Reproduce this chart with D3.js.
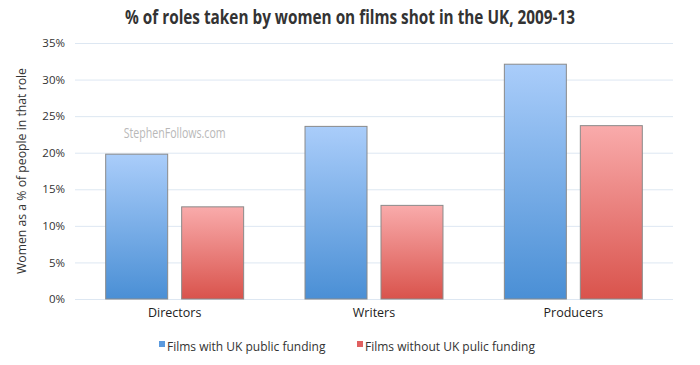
<!DOCTYPE html>
<html><head><meta charset="utf-8">
<script src="https://cdn.jsdelivr.net/npm/d3@7"></script>
<style>body{margin:0;background:#fff}svg{display:block}</style>
</head><body><svg id="c" width="700" height="365"></svg>
<script>
const categories = ["Directors", "Writers", "Producers"];
const seriesNames = ["Films with UK public funding", "Films without UK pulic funding"];
const withFunding = [19.8, 23.6, 32.1];
const withoutFunding = [12.6, 12.8, 23.7];
const yTicks = [0, 5, 10, 15, 20, 25, 30, 35];

const svg = d3.select("#c");
const m = {l: 75, r: 27, t: 43, b: 66};
const W = 700, H = 365;
const x0 = d3.scaleBand().domain(categories).range([m.l, W - m.r]).paddingInner(0).paddingOuter(0);
const x1 = d3.scaleBand().domain([0, 1]).range([0, x0.bandwidth()]).paddingInner(0.184).paddingOuter(0.404);
const y = d3.scaleLinear().domain([0, 35]).range([H - m.b, m.t]);

const defs = svg.append("defs");
const grads = [["gb", "#aacdfa", "#4a8fd5"], ["gr", "#f9abab", "#d9534c"]];
grads.forEach(([id, a, b]) => {
  const g = defs.append("linearGradient").attr("id", id).attr("x1", 0).attr("x2", 0).attr("y1", 0).attr("y2", 1);
  g.append("stop").attr("offset", "0%").attr("stop-color", a);
  g.append("stop").attr("offset", "100%").attr("stop-color", b);
});

const font = "'Open Sans', 'Noto Sans', sans-serif";
const cond = "'Open Sans', 'Noto Sans', sans-serif";

svg.append("text").attr("x", 350).attr("y", 24).attr("text-anchor", "middle")
  .attr("font-family", cond).attr("font-weight", "bold").attr("font-size", 19).attr("fill", "#333")
  .attr("textLength", 450).attr("lengthAdjust", "spacingAndGlyphs")
  .text("% of roles taken by women on films shot in the UK, 2009-13");

// grid
const yAxis = d3.axisLeft(y).tickValues(yTicks).tickFormat(d => d + "%").tickSize(-(W - m.l - m.r)).tickPadding(10);
const ga = svg.append("g").attr("transform", `translate(${m.l},0)`).call(yAxis);
ga.select(".domain").remove();
ga.selectAll(".tick line").attr("stroke", "#dde7f2").attr("stroke-width", 1);
ga.selectAll(".tick text").attr("font-family", font).attr("font-size", 11.5).attr("fill", "#333");

svg.append("text").attr("transform", `translate(26,${(m.t + H - m.b) / 2}) rotate(-90)`)
  .attr("text-anchor", "middle").attr("font-family", font).attr("font-size", 12).attr("fill", "#333")
  .attr("textLength", 206).attr("lengthAdjust", "spacingAndGlyphs")
  .text("Women as a % of people in that role");

// watermark
svg.append("text").attr("x", x0("Directors") + x0.bandwidth() / 2).attr("y", 138).attr("text-anchor", "middle")
  .attr("font-family", cond).attr("font-size", 14).attr("fill", "#b8b8b8")
  .attr("textLength", 102).attr("lengthAdjust", "spacingAndGlyphs").text("StephenFollows.com");

const series = [withFunding, withoutFunding];
series.forEach((vals, si) => {
  svg.append("g").selectAll("rect").data(categories).join("rect")
    .attr("x", (c) => x0(c) + x1(si))
    .attr("width", x1.bandwidth())
    .attr("y", (c, i) => y(vals[i]))
    .attr("height", (c, i) => y(0) - y(vals[i]))
    .attr("fill", `url(#${grads[si][0]})`)
    .attr("stroke", "#8a8a8a").attr("stroke-width", 1);
});

const xAxis = d3.axisBottom(x0).tickSize(0).tickPadding(9);
const gx = svg.append("g").attr("transform", `translate(0,${H - m.b})`).call(xAxis);
gx.select(".domain").remove();
gx.selectAll(".tick text").attr("font-family", font).attr("font-size", 12.5).attr("fill", "#222");

// legend
const legX = [159, 357];
const legColors = ["#5b9ade", "#e06060"];
seriesNames.forEach((n, i) => {
  svg.append("rect").attr("x", legX[i]).attr("y", 341).attr("width", 6).attr("height", 6).attr("fill", legColors[i]);
  svg.append("text").attr("x", legX[i] + 8).attr("y", 351).attr("font-family", font).attr("font-size", 12)
    .attr("fill", "#333").text(n);
});
</script></body></html>
